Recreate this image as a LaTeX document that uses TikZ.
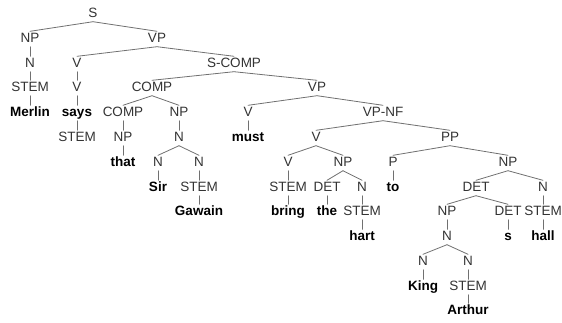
\documentclass[tikz,border=0pt]{standalone}
\usepackage{fontspec}
\setmainfont{Liberation Sans}
\definecolor{catgray}{HTML}{333333}
\definecolor{edgegray}{HTML}{707070}

\begin{document}
\begin{tikzpicture}[x=1pt, y=-1pt, font=\fontsize{13.5}{15}\selectfont, line join=round, line cap=round,
	cat/.style={text=catgray, inner sep=1.5pt, text height=9.5pt, text depth=2.5pt},
	word/.style={cat, text=black, font=\fontsize{13.5}{15}\selectfont\bfseries},
	edge/.style={draw=edgegray, line width=0.8pt}]
	\useasboundingbox (0,0) rectangle (562,322);
	% categories and words, row by row
	\node[cat] (s) at (93,14) {S};
	\node[cat] (np1) at (30,39) {NP};
	\node[cat] (vp1) at (157,39) {VP};
	\node[cat] (n1) at (30,64) {N};
	\node[cat] (v1) at (77,64) {V};
	\node[cat] (scomp) at (234,64) {S-COMP};
	\node[cat] (stem1) at (30,88) {STEM};
	\node[cat] (v2) at (77,88) {V};
	\node[cat] (comp1) at (152,88) {COMP};
	\node[cat] (vp2) at (317,88) {VP};
	\node[word] (merlin) at (30,113) {Merlin};
	\node[word] (says) at (77,113) {says};
	\node[cat] (comp2) at (123,113) {COMP};
	\node[cat] (np2) at (179,113) {NP};
	\node[cat] (v3) at (248,113) {V};
	\node[cat] (vpnf) at (383,113) {VP-NF};
	\node[cat] (stem2) at (77,138) {STEM};
	\node[cat] (np3) at (123,138) {NP};
	\node[cat] (n2) at (179,138) {N};
	\node[word] (must) at (248,138) {must};
	\node[cat] (v4) at (316,138) {V};
	\node[cat] (pp) at (450,138) {PP};
	\node[word] (that) at (123,163) {that};
	\node[cat] (n3) at (158,163) {N};
	\node[cat] (n4) at (199,163) {N};
	\node[cat] (v5) at (288,163) {V};
	\node[cat] (np4) at (343,163) {NP};
	\node[cat] (p) at (393,163) {P};
	\node[cat] (np5) at (508,163) {NP};
	\node[word] (sir) at (158,188) {Sir};
	\node[cat] (stem3) at (199,188) {STEM};
	\node[cat] (stem4) at (288,188) {STEM};
	\node[cat] (det1) at (327,188) {DET};
	\node[cat] (n5) at (362,188) {N};
	\node[word] (to) at (393,188) {to};
	\node[cat] (det2) at (476,188) {DET};
	\node[cat] (n6) at (543,188) {N};
	\node[word] (gawain) at (199,212) {Gawain};
	\node[word] (bring) at (288,212) {bring};
	\node[word] (the) at (327,212) {the};
	\node[cat] (stem5) at (362,212) {STEM};
	\node[cat] (np6) at (447,212) {NP};
	\node[cat] (det3) at (508,212) {DET};
	\node[cat] (stem6) at (543,212) {STEM};
	\node[word] (hart) at (362,237) {hart};
	\node[cat] (n7) at (447,237) {N};
	\node[word] (sword) at (508,237) {s};
	\node[word] (hall) at (543,237) {hall};
	\node[cat] (n8) at (423,262) {N};
	\node[cat] (n9) at (468,262) {N};
	\node[word] (king) at (423,287) {King};
	\node[cat] (stem7) at (468,287) {STEM};
	\node[word] (arthur) at (468,311) {Arthur};
	% branches
	\foreach \a/\b in {s/np1, s/vp1, np1/n1, n1/stem1, stem1/merlin,
		vp1/v1, vp1/scomp, v1/v2, v2/says, says/stem2,
		scomp/comp1, scomp/vp2, comp1/comp2, comp1/np2, comp2/np3, np3/that,
		np2/n2, n2/n3, n2/n4, n3/sir, n4/stem3, stem3/gawain,
		vp2/v3, vp2/vpnf, v3/must, vpnf/v4, vpnf/pp,
		v4/v5, v4/np4, v5/stem4, stem4/bring, np4/det1, np4/n5, det1/the, n5/stem5, stem5/hart,
		pp/p, pp/np5, p/to, np5/det2, np5/n6, n6/stem6, stem6/hall,
		det2/np6, det2/det3, det3/sword, np6/n7, n7/n8, n7/n9, n8/king, n9/stem7, stem7/arthur}
		\draw[edge] (\a.south) -- (\b.north);
\end{tikzpicture}
\end{document}
